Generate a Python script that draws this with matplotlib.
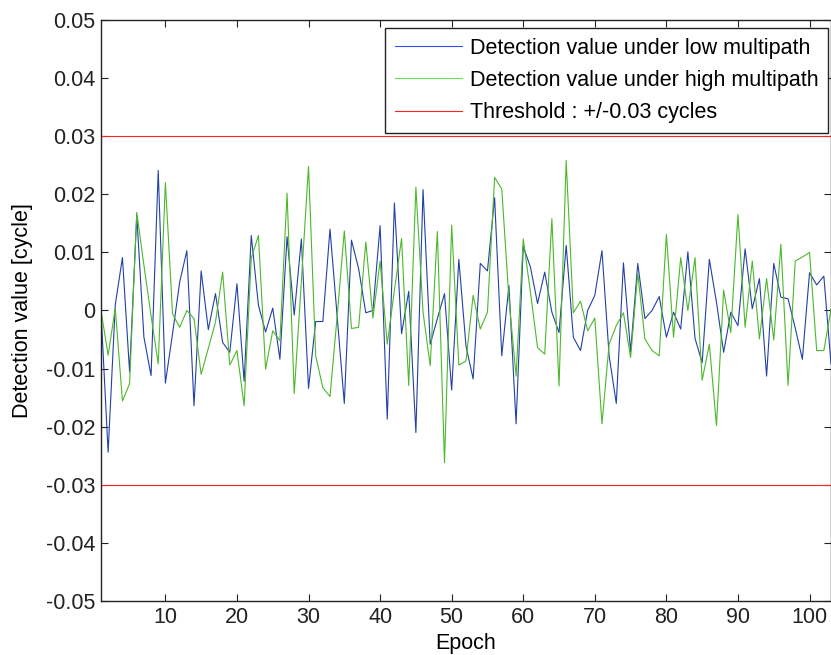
import numpy as np
import matplotlib
matplotlib.use('Agg')
import matplotlib.pyplot as plt

plt.rcParams['font.family'] = ['Liberation Sans', 'DejaVu Sans']

# detection values (units of cycle)
epoch = np.arange(1, 104)

low_mp = [0.0, -2.44, 0.1, 0.91, -1.06, 1.64, -0.46, -1.12, 2.41, -1.25,
          -0.4, 0.49, 1.03, -1.64, 0.68, -0.33, 0.29, -0.55, -0.72, 0.46,
          -1.22, 1.29, 0.09, -0.37, 0.04, -0.84, 1.27, -0.08, 1.23, -1.34,
          -0.19, -0.19, 1.40, -0.1, -1.60, 1.21, 0.72, -0.04, 0.0, 1.46,
          -1.87, 1.85, -0.40, 0.33, -2.10, 2.08, -0.58, -0.14, 0.29, -1.37,
          0.88, -0.61, -1.18, 0.81, 0.68, 1.94, -0.78, 0.43, -1.95, 1.10,
          0.75, 0.12, 0.66, -0.03, -0.38, 1.12, -0.46, -0.69, 0.0, 0.26,
          1.03, -0.78, -1.60, 0.82, -0.71, 0.81, -0.14, 0.0, 0.24, -0.46,
          -0.03, -0.32, 1.01, -0.48, -0.90, 0.88, 0.14, -0.72, -0.03, -0.26,
          1.06, 0.03, 0.55, -1.13, 0.81, 0.23, 0.20, -0.3, -0.84, 0.65,
          0.44, 0.59, -0.92]

high_mp = [0.0, -0.77, 0.04, -1.56, -1.26, 1.69, 0.78, -0.09, -0.92, 2.2,
           -0.06, -0.29, 0.0, -0.14, -1.1, -0.65, -0.2, 0.66, -0.94, -0.69,
           -1.64, 0.9, 1.29, -1.01, -0.35, -0.52, 2.02, -1.43, 0.5, 2.48,
           -0.78, -1.33, -1.48, -0.1, 1.37, -0.31, -0.29, 1.18, -0.13, 0.85,
           -0.58, 0.35, 1.24, -1.29, 2.12, -0.03, -0.95, 1.36, -2.62, 1.47,
           -0.94, -0.87, 0.26, -0.32, -0.03, 2.29, 2.09, 0.2, -1.13, 1.23,
           0.32, -0.64, -0.75, 1.58, -1.30, 2.58, -0.04, 0.16, -0.35, -0.13,
           -1.95, -0.58, -0.26, -0.04, -0.81, 0.64, -0.49, -0.69, -0.78, 1.31,
           -0.46, 0.91, 0.0, 0.91, -1.20, -0.58, -1.98, 0.35, -0.38, 1.65,
           -0.29, 0.85, -0.49, 0.55, -0.51, 1.14, -1.29, 0.85, 0.92, 1.0,
           -0.69, -0.69, 0.02]

low_mp = np.array(low_mp) * 0.01
high_mp = np.array(high_mp) * 0.01
threshold = 0.03

fs = 15.5

fig = plt.figure(figsize=(8.31, 6.55), dpi=100)
ax = fig.add_axes([0.1215, 0.0825, 0.8785, 0.887])

ax.plot(epoch, low_mp, color='#2340a8', lw=0.8, label='Detection value under low multipath')
ax.plot(epoch, high_mp, color='#4cb82a', lw=0.8, label='Detection value under high multipath')
ax.plot(epoch, np.full(len(epoch), threshold), color='#ff2020', lw=0.8,
        label='Threshold : +/-0.03 cycles')
ax.plot(epoch, np.full(len(epoch), -threshold), color='#ff2020', lw=0.8)

ax.set_xlim(1, 103)
ax.set_ylim(-0.05, 0.05)
ax.set_xticks(np.arange(10, 101, 10))
ax.set_yticks(np.arange(-0.05, 0.0501, 0.01))
ax.set_yticklabels(['%g' % v for v in np.round(np.arange(-0.05, 0.0501, 0.01), 2)])
ax.tick_params(direction='in', top=True, right=True, labelsize=fs, length=5, width=0.8,
               colors='#222222', pad=4)
for s in ax.spines.values():
    s.set_linewidth(1.0)
    s.set_color('#222222')

ax.set_xlabel('Epoch', fontsize=fs, labelpad=4)
ax.set_ylabel('Detection value [cycle]', fontsize=fs, labelpad=9)

leg = ax.legend(loc='upper right', bbox_to_anchor=(0.996, 0.986), fontsize=fs,
                handlelength=3.1, handletextpad=0.37, labelspacing=0.52,
                borderaxespad=0, fancybox=False, framealpha=1,
                edgecolor='#222222', borderpad=0.45)
leg.get_frame().set_linewidth(1.0)
leg.legend_handles[0].set_color('#3050ff')
leg.legend_handles[1].set_color('#66dd55')

fig.savefig('out.png', dpi=100)
